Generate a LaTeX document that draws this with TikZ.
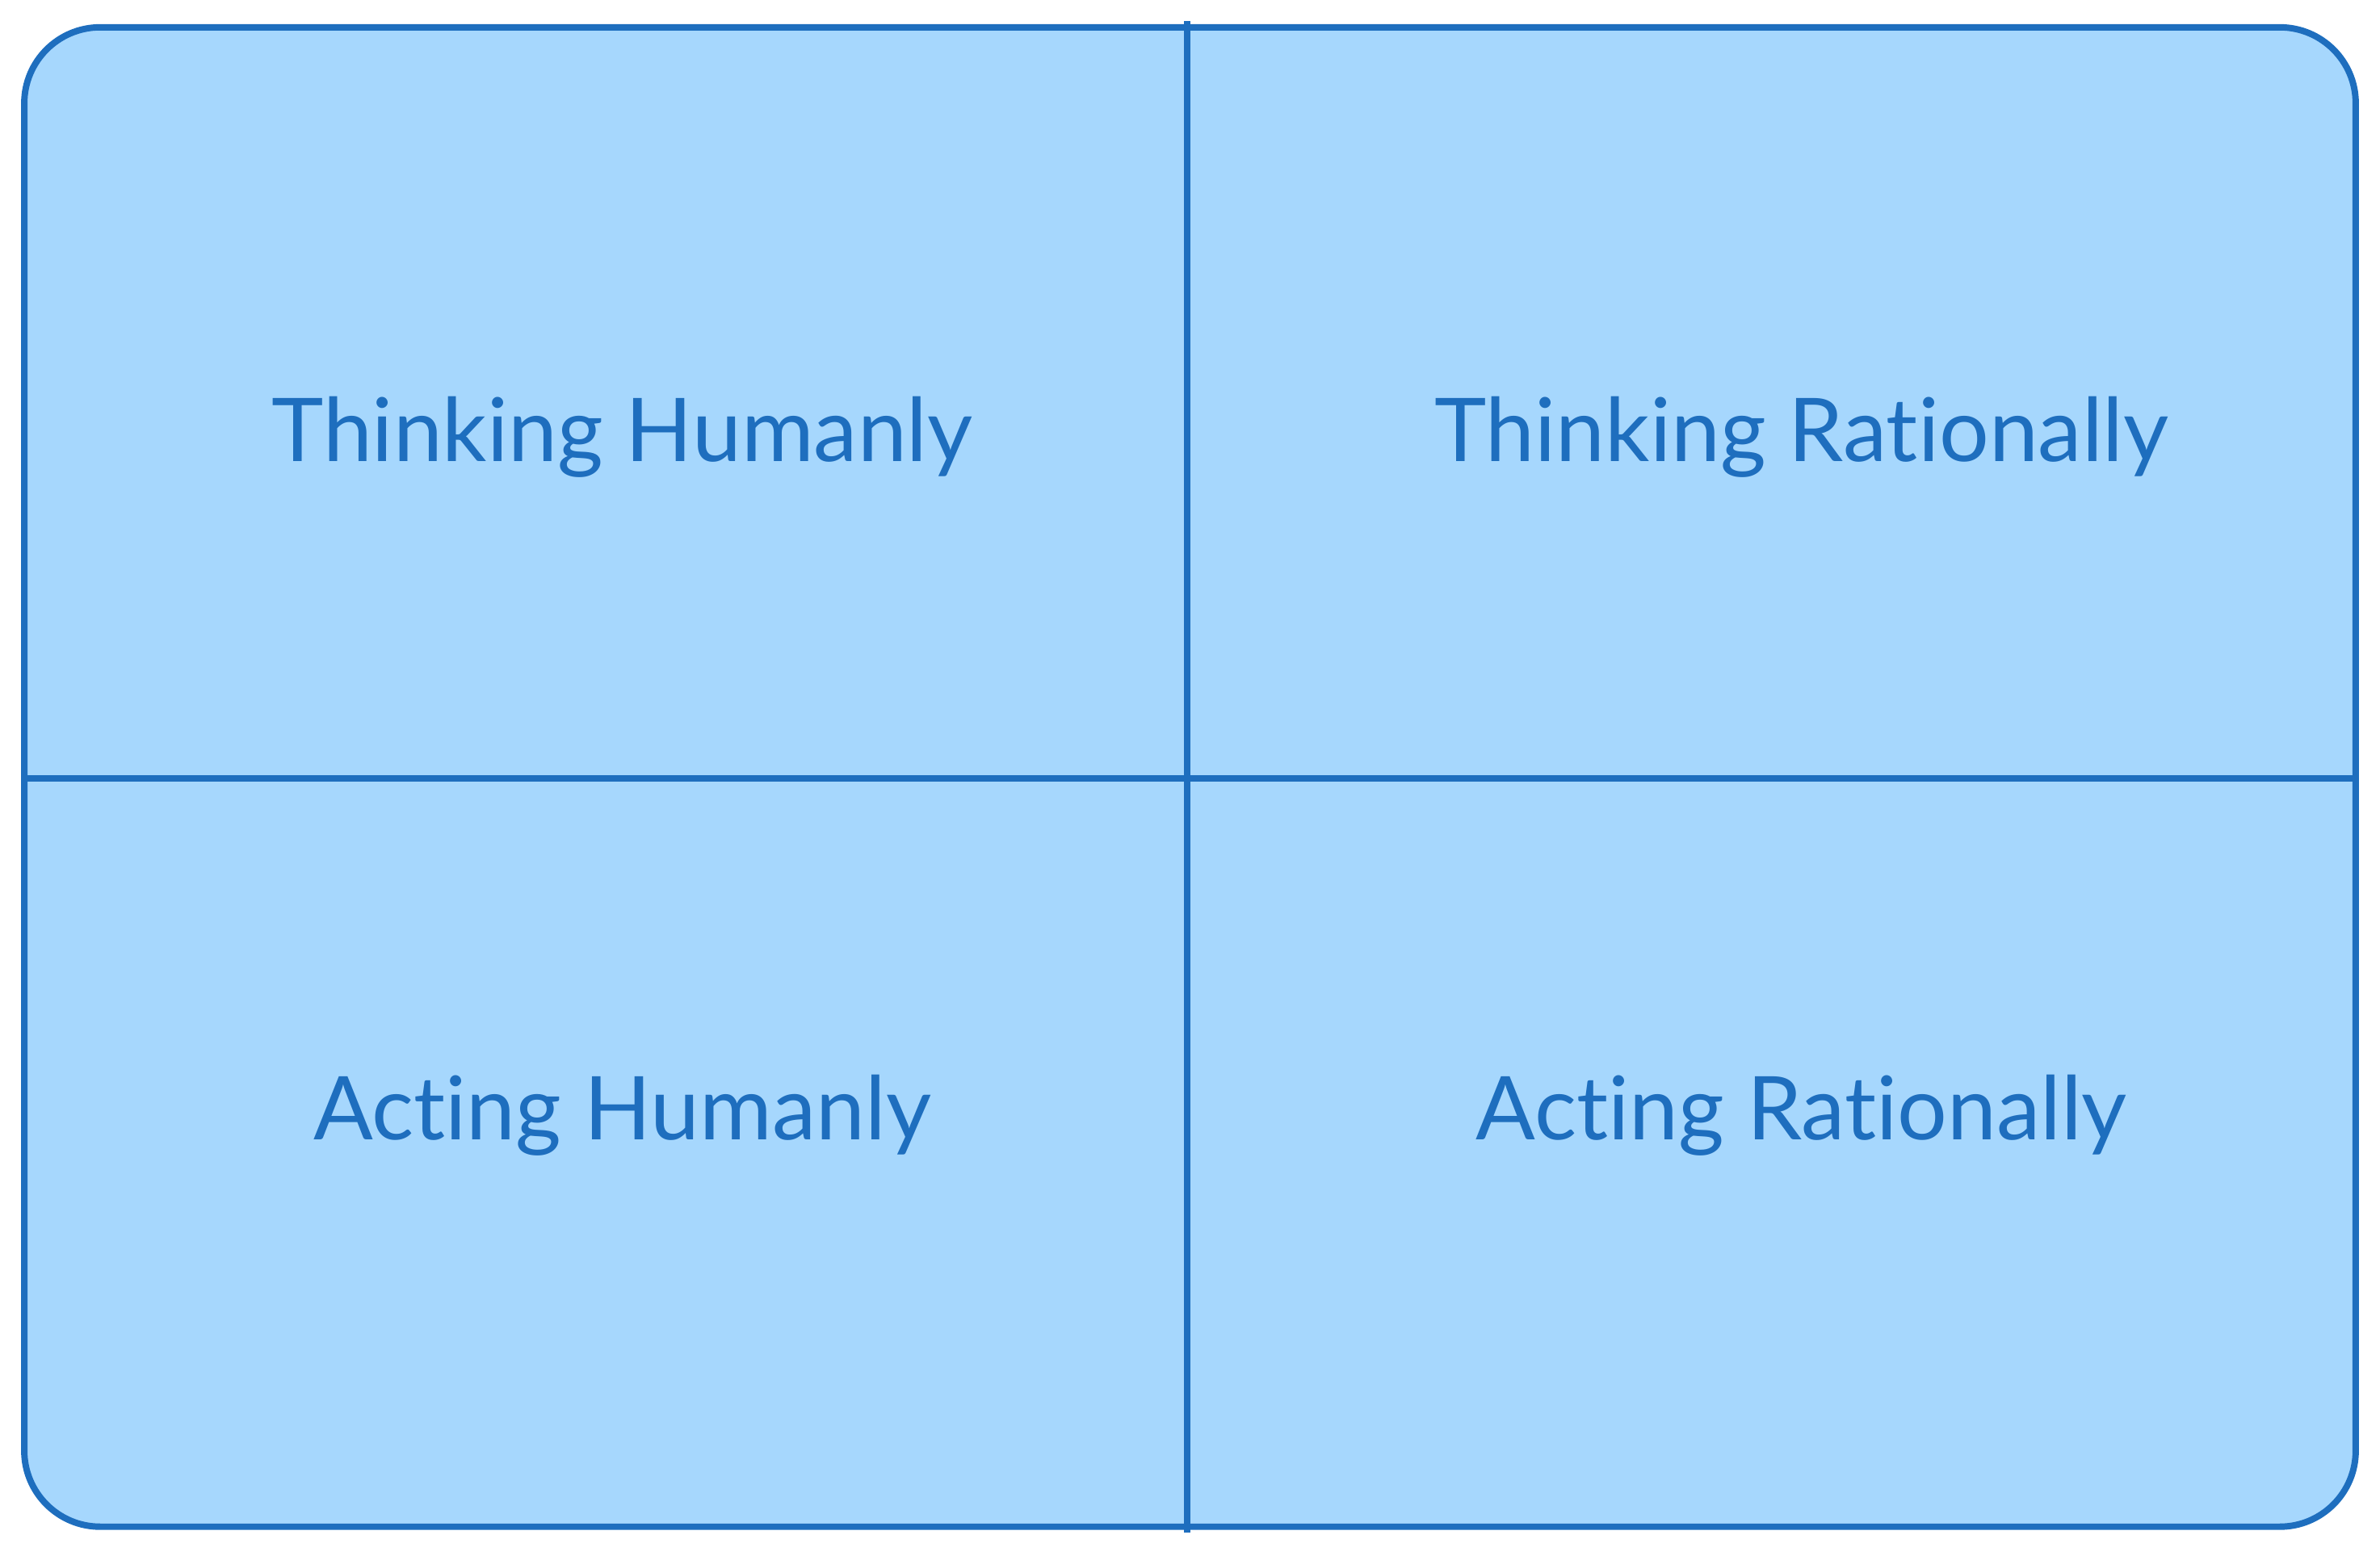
\documentclass[tikz,border=0pt]{standalone}
\usepackage{fontspec}
\setmainfont[Ligatures=NoCommon]{Lato}
\usetikzlibrary{positioning}
\definecolor{cellfill}{HTML}{A6D7FD}
\definecolor{cellline}{HTML}{1E6EBE}

\begin{document}
\begin{tikzpicture}
[x=0.01cm, y=-0.01cm, line width=1.2pt,
quad/.style={text=cellline, font=\fontsize{16.5}{20}\selectfont}]

\useasboundingbox (0,0) rectangle (1568,1025);

\draw[draw=cellline, fill=cellfill, rounded corners=0.5cm] (16,18) rectangle (1552,1006);

\coordinate (vtop) at (782,14);
\coordinate (vbot) at (782,1010);
\coordinate (hleft) at (16,513);
\coordinate (hright) at (1552,513);
\draw[cellline] (vtop) -- (vbot);
\draw[cellline] (hleft) -- (hright);

\node[quad] (th) at (410,288) {Thinking Humanly};
\node[quad] (tr) at (1187,288) {Thinking Rationally};
\node[quad] (ah) at (410,735) {Acting Humanly};
\node[quad] (ar) at (1187,735) {Acting Rationally};
\end{tikzpicture}
\end{document}
